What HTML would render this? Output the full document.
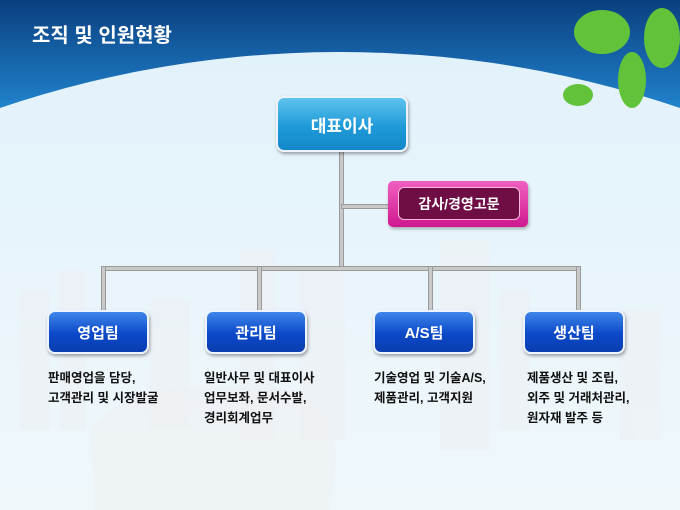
<!DOCTYPE html>
<html><head><meta charset="utf-8"><style>
html,body{margin:0;width:680px;height:510px;overflow:hidden;}
body{position:relative;font-family:"Liberation Sans","Noto Sans CJK KR",sans-serif;}
.t{position:absolute;color:#fff;font-weight:bold;text-align:center;}
.box{position:absolute;border-radius:8px;background:linear-gradient(#3f86ea,#0b48c8 55%,#0a3eb0);box-shadow:1px 2px 3px rgba(0,0,0,.35);border:2px solid #eef4ff;color:#fff;font-weight:bold;font-size:15px;display:flex;align-items:center;justify-content:center;}
.d{position:absolute;font-size:12.5px;font-weight:bold;line-height:20px;color:#111;white-space:nowrap;}
.ln{position:absolute;background:#c9c9c9;border:1px solid #9a9a9a;}
</style></head><body>
<svg width="680" height="510" style="position:absolute;left:0;top:0;overflow:hidden">
<defs>
<linearGradient id="sky" x1="0" y1="0" x2="0" y2="1"><stop offset="0" stop-color="#0a3f7f"/><stop offset="1" stop-color="#2590dc"/></linearGradient>
<linearGradient id="bg" x1="0" y1="0" x2="0" y2="1"><stop offset="0" stop-color="#e2f2fb"/><stop offset=".2" stop-color="#eef7fb"/><stop offset=".45" stop-color="#f6f9fb"/><stop offset="1" stop-color="#ffffff"/></linearGradient>
</defs>
<rect width="680" height="130" fill="url(#sky)"/>
<ellipse cx="340" cy="1050" rx="1030" ry="998" fill="url(#bg)"/>
<g fill="#edf0f3" opacity=".6">
<rect x="20" y="290" width="30" height="140"/><rect x="60" y="270" width="25" height="160"/><rect x="150" y="300" width="40" height="130"/>
<rect x="240" y="250" width="35" height="190"/><rect x="300" y="270" width="45" height="170"/><rect x="440" y="240" width="50" height="210"/>
<rect x="500" y="290" width="30" height="140"/><rect x="620" y="310" width="40" height="130"/>
</g>
<g fill="#eef1f4" opacity=".7"><path d="M90 430 Q120 390 200 385 L300 390 Q340 410 335 470 L330 510 L95 510 Z"/></g>
<g fill="#62c33a"><ellipse cx="602" cy="32" rx="28" ry="22"/><ellipse cx="662" cy="38" rx="18" ry="30"/><ellipse cx="632" cy="80" rx="14" ry="28"/><ellipse cx="578" cy="95" rx="15" ry="11"/></g>
</svg>
<div class="t" style="left:32px;top:19px;font-size:20px;text-align:left">조직 및 인원현황</div>
<div class="ln" style="left:339px;top:150px;width:3px;height:118px"></div>
<div class="ln" style="left:341px;top:204px;width:48px;height:3px"></div>
<div class="ln" style="left:101px;top:266px;width:478px;height:3px"></div>
<div class="ln" style="left:101px;top:266px;width:3px;height:46px"></div>
<div class="ln" style="left:257px;top:266px;width:3px;height:46px"></div>
<div class="ln" style="left:428px;top:266px;width:3px;height:46px"></div>
<div class="ln" style="left:576px;top:266px;width:3px;height:46px"></div>
<div class="box" style="left:276px;top:96px;width:128px;height:52px;background:linear-gradient(#5fc3ee,#1f9ad8 55%,#1487c8);font-size:17px">대표이사</div>
<div style="position:absolute;left:388px;top:181px;width:140px;height:46px;border-radius:5px;background:linear-gradient(#f060c0,#d0188f);box-shadow:1px 2px 3px rgba(0,0,0,.3)"></div>
<div style="position:absolute;left:398px;top:187px;width:120px;height:31px;border-radius:6px;background:#6e0e45;border:1px solid #f6b8dd;color:#fff;font-weight:bold;font-size:14px;display:flex;align-items:center;justify-content:center">감사/경영고문</div>
<div class="box" style="left:47px;top:310px;width:98px;height:40px">영업팀</div>
<div class="box" style="left:205px;top:310px;width:98px;height:40px">관리팀</div>
<div class="box" style="left:373px;top:310px;width:98px;height:40px">A/S팀</div>
<div class="box" style="left:523px;top:310px;width:98px;height:40px">생산팀</div>
<div class="d" style="left:48px;top:368px">판매영업을 담당,<br>고객관리 및 시장발굴</div>
<div class="d" style="left:204px;top:368px">일반사무 및 대표이사<br>업무보좌, 문서수발,<br>경리회계업무</div>
<div class="d" style="left:374px;top:368px">기술영업 및 기술A/S,<br>제품관리, 고객지원</div>
<div class="d" style="left:527px;top:368px">제품생산 및 조립,<br>외주 및 거래처관리,<br>원자재 발주 등</div>
</body></html>
